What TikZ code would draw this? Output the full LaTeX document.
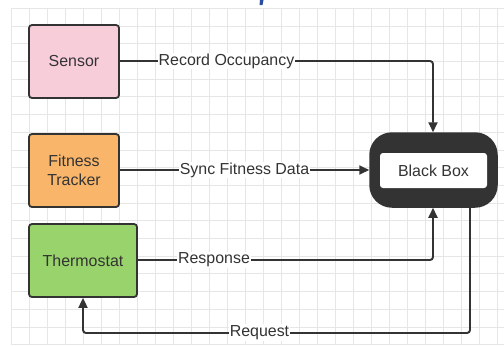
\documentclass[tikz,border=0pt]{standalone}
\usepackage{fontspec}
\setmainfont{Liberation Sans}
\usetikzlibrary{arrows.meta,calc}
\definecolor{ink}{HTML}{333333}
\definecolor{gridc}{HTML}{E6E6E6}
\definecolor{pinkc}{HTML}{F8CDDA}
\definecolor{orangec}{HTML}{F9B66B}
\definecolor{greenc}{HTML}{98D46B}
\definecolor{bluec}{HTML}{2A4F9E}
\tikzset{
  box/.style={draw=ink, line width=1.8bp, rounded corners=3bp, minimum height=73bp,
    font=\fontsize{16}{18.5}\selectfont, text=ink, align=center, inner sep=0pt},
  conn/.style={draw=ink, line width=1.9bp, rounded corners=3bp},
  tip/.style={-{Triangle[length=10bp,width=9bp]}},
  lbl/.style={fill=white, inner sep=1bp, text=ink, font=\fontsize{16}{18.5}\selectfont}
}
\begin{document}
\begin{tikzpicture}[x=1bp,y=-1bp]
\useasboundingbox (0,0) rectangle (504,345);
\fill[white] (0,0) rectangle (504,345);
% grid
\foreach \i in {0,...,27} {\draw[gridc, line width=0.8bp] ({11.7+18*\i},8.3) -- ({11.7+18*\i},345);}
\foreach \j in {0,...,19} {\draw[gridc, line width=0.8bp] (11.7,{8.3+17.7*\j}) -- (504,{8.3+17.7*\j});}
% title fragment
\fill[bluec] (260,0) -- (263.5,0) -- (262.5,5) -- (259.5,5) -- cycle;
% nodes
\node[box, fill=pinkc, minimum width=90bp] (sensor) at (74,61.5) {Sensor};
\node[box, fill=orangec, minimum width=90bp] (fit) at (74,170.5) {Fitness\\Tracker};
\node[box, fill=greenc, minimum width=108bp] (therm) at (83,260.5) {Thermostat};
\node[draw=ink, fill=ink, line width=1.5bp, rounded corners=22bp, minimum width=127bp, minimum height=74bp, inner sep=0pt] (bb) at (433.5,170) {};
\node[fill=white, rounded corners=3bp, minimum width=107bp, minimum height=35bp, inner sep=0pt, text=ink, font=\fontsize{16}{18.5}\selectfont] (bbin) at (433.5,170.5) {Black Box};
% connectors
\coordinate (c1) at (433,61);
\draw[conn, tip] (sensor.east |- c1) -- (c1) -- (c1 |- bb.north);
\node[lbl] (l1) at (226.5,61) {Record Occupancy};
\draw[conn, tip] (fit.east |- 0,170) -- (bb.west |- 0,170);
\node[lbl] (l2) at (244.5,170) {Sync Fitness Data};
\coordinate (c3) at (433,260);
\draw[conn, tip] (therm.east |- c3) -- (c3) -- (c3 |- bb.south);
\node[lbl] (l3) at (214,260) {Response};
\coordinate (c4) at (470,333);
\draw[conn, tip] (c4 |- bb.south) -- (c4) -- (c4 -| therm.south) -- (therm.south);
\node[lbl] (l4) at (259.5,332.5) {Request};
\end{tikzpicture}
\end{document}
